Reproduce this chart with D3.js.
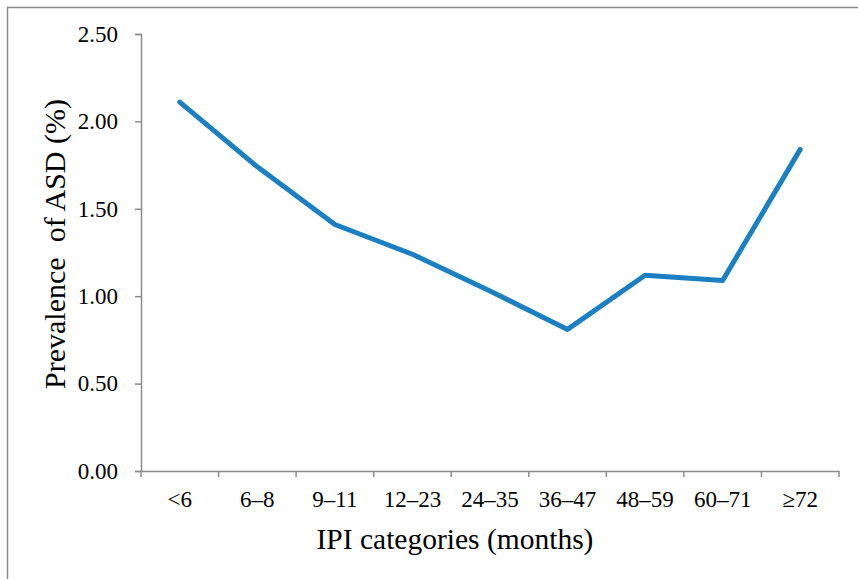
<!doctype html>
<html>
<head>
    <meta charset="utf-8">
    <script src="https://d3js.org/d3.v7.min.js"></script>
    <style>
        body {
            margin: 0;
            background-color: white;
        }
        svg text {
            font-family: "Liberation Serif", "Times New Roman", serif !important;
        }
    </style>
</head>
<body>
<div id="chart"></div>
<script>

    // data
    var categories = ["<6", "6–8", "9–11", "12–23", "24–35", "36–47", "48–59", "60–71", "≥72"]
    var prevalence = [2.11, 1.74, 1.41, 1.24, 1.03, 0.81, 1.12, 1.09, 1.84]
    var yTicks = [0, 0.5, 1, 1.5, 2, 2.5]

    var width = 858,
        height = 579

    var svg = d3.select("#chart")
      .append("svg")
        .attr("width", width)
        .attr("height", height)

    // outer frame (runs off the right and bottom edges)
    svg.append("path")
        .attr("d", "M7.5," + (height + 5) + "V7.5H" + (width + 5))
        .attr("fill", "none")
        .attr("stroke", "#8c8c8c")
        .attr("stroke-width", 1.5)

    var x = d3.scaleBand()
        .domain(categories)
        .range([141, 839])

    var y = d3.scaleLinear()
        .domain([0, 2.5])
        .range([471, 34])

    // y axis
    var yAxis = svg.append("g")
        .attr("transform", "translate(141,0)")
        .call(d3.axisLeft(y).tickValues(yTicks).tickFormat(d3.format(".2f")).tickSize(6).tickPadding(17))
    yAxis.attr("font-family", null)
    yAxis.select(".domain").attr("stroke", "#8c8c8c").attr("stroke-width", 1.5)
    yAxis.selectAll(".tick line").attr("stroke", "#8c8c8c").attr("stroke-width", 1.5)
    yAxis.selectAll(".tick text")
        .style("font-size", "23px")
        .attr("fill", "#000")

    // x axis, ticks on band edges like a spreadsheet chart
    var xAxis = svg.append("g")
        .attr("transform", "translate(0,471)")
        .call(d3.axisBottom(x).tickSize(0).tickPadding(20))
    xAxis.attr("font-family", null)
    xAxis.select(".domain").attr("stroke", "#8c8c8c").attr("stroke-width", 1.5)
    xAxis.selectAll(".tick text")
        .style("font-size", "23px")
        .attr("fill", "#000")

    var edges = categories.map(function(c) { return x(c) }).concat([x.range()[1]])
    xAxis.selectAll(".edge")
        .data(edges)
        .enter()
        .append("line")
        .attr("x1", function(d) { return d })
        .attr("x2", function(d) { return d })
        .attr("y1", 0)
        .attr("y2", 6)
        .attr("stroke", "#8c8c8c")
        .attr("stroke-width", 1.5)

    // the line
    var line = d3.line()
        .x(function(d, i) { return x(categories[i]) + x.bandwidth() / 2 })
        .y(function(d) { return y(d) })

    svg.append("path")
        .datum(prevalence)
        .attr("d", line)
        .attr("fill", "none")
        .attr("stroke", "#1a80c3")
        .attr("stroke-width", 5)
        .attr("stroke-linecap", "round")
        .attr("stroke-linejoin", "round")

    // axis titles
    svg.append("text")
        .attr("x", 455)
        .attr("y", 549)
        .attr("text-anchor", "middle")
        .style("font-size", "29.5px")
        .text("IPI categories (months)")

    svg.append("text")
        .attr("transform", "translate(65,244) rotate(-90)")
        .attr("text-anchor", "middle")
        .style("font-size", "30px")
        .style("white-space", "pre")
        .text("Prevalence  of ASD (%)")

</script>
</body>
</html>
